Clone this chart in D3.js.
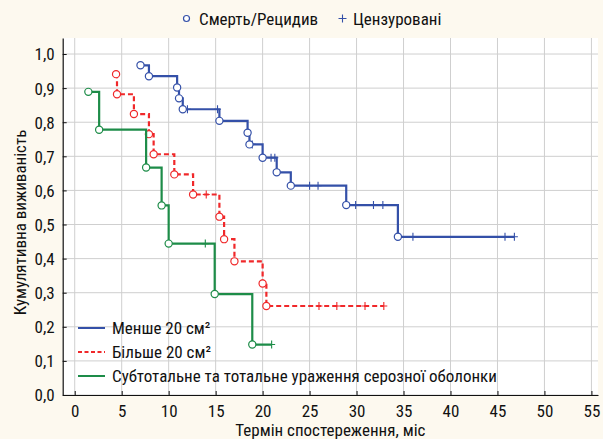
<!DOCTYPE html>
<html>
<head>
<meta charset="utf-8">
<script src="https://cdn.jsdelivr.net/npm/d3@7"></script>
<style>
  html, body { margin: 0; padding: 0; background: #fdf9ef; }
  svg { display: block; }
  text { font-family: "Liberation Sans Narrow", "Roboto Condensed", "Arial Narrow", "Liberation Sans", sans-serif; fill: #111; }
</style>
</head>
<body>
<svg id="chart" width="603" height="439"></svg>
<script>
// ---- Data ----
const seriesNames = ["Менше 20 см²", "Більше 20 см²", "Субтотальне та тотальне ураження серозної оболонки"];

// Blue: Менше 20 см²
const blueEventTimes = [7.0, 7.9, 10.9, 11.1, 11.5, 15.4, 18.4, 18.6, 20.0, 21.5, 23.0, 28.9, 34.4];
const blueEventSurv  = [0.967, 0.935, 0.902, 0.870, 0.838, 0.804, 0.769, 0.735, 0.696, 0.653, 0.614, 0.557, 0.464];
const blueCensTimes  = [12.0, 15.2, 18.9, 20.9, 21.3, 25.0, 25.9, 29.9, 31.8, 32.8, 36.0, 45.8, 46.8];

// Red: Більше 20 см²
const redEventTimes = [4.4, 4.5, 6.3, 7.9, 8.4, 10.6, 12.6, 15.4, 15.9, 17.0, 20.0, 20.4];
const redEventSurv  = [0.941, 0.882, 0.824, 0.765, 0.706, 0.647, 0.588, 0.523, 0.457, 0.392, 0.327, 0.261];
const redCensTimes  = [14.0, 26.0, 27.9, 30.9, 32.9];

// Green: Субтотальне та тотальне ураження серозної оболонки
const greenEventTimes = [1.45, 2.6, 7.6, 9.25, 10.0, 14.9, 18.9];
const greenEventSurv  = [0.889, 0.778, 0.667, 0.556, 0.444, 0.296, 0.148];
const greenCensTimes  = [13.9, 20.96];

const xTicks = [0, 5, 10, 15, 20, 25, 30, 35, 40, 45, 50, 55];
const yTicks = [0, 0.1, 0.2, 0.3, 0.4, 0.5, 0.6, 0.7, 0.8, 0.9, 1.0];

const topLegend = ["Смерть/Рецидив", "Цензуровані"];
const xTitle = "Термін спостереження, міс";
const yTitle = "Кумулятивна виживаність";

// ---- Layout ----
const FS = 17;
const svg = d3.select("#chart");
const L = 62.7, R = 598, T = 38, B = 395;
const x = d3.scaleLinear().domain([-1.28, 55.7]).range([L, R]);
const y = d3.scaleLinear().domain([0, 1.047]).range([B, T]);

svg.append("rect").attr("x", 0).attr("y", 0).attr("width", 603).attr("height", 439).attr("fill", "#fdf9ef");
svg.append("rect").attr("x", L).attr("y", T).attr("width", R - L).attr("height", B - T).attr("fill", "#ffffff");

// grid
const grid = svg.append("g").attr("stroke", "#cfcfcf").attr("stroke-width", 1);
xTicks.forEach(t => grid.append("line").attr("x1", x(t)).attr("x2", x(t)).attr("y1", T).attr("y2", B));
yTicks.forEach(t => grid.append("line").attr("x1", L).attr("x2", R).attr("y1", y(t)).attr("y2", y(t)));

// axes
const fmt = d => d3.format(".1f")(d).replace(".", ",");
const yAxis = d3.axisLeft(y).tickValues(yTicks).tickFormat(fmt).tickSizeInner(-4).tickSizeOuter(0).tickPadding(8);
const xAxis = d3.axisBottom(x).tickValues(xTicks).tickFormat(d3.format("d")).tickSizeInner(-4).tickSizeOuter(0).tickPadding(8);

const gy = svg.append("g").attr("transform", `translate(${L},0)`).call(yAxis);
const gx = svg.append("g").attr("transform", `translate(0,${B})`).call(xAxis);
[gx, gy].forEach(g => {
  g.select(".domain").attr("stroke", "#111").attr("stroke-width", 1.2);
  g.selectAll(".tick line").attr("stroke", "#111");
  g.selectAll(".tick text").attr("font-size", FS).attr("fill", "#111")
   .style("font-family", '"Liberation Sans Narrow", "Roboto Condensed", "Liberation Sans", sans-serif');
});
gy.selectAll(".tick text").attr("dy", "0.35em");
gx.selectAll(".tick text").attr("dy", "0.8em");

// titles
svg.append("text").attr("x", (L + R) / 2).attr("y", 436).attr("text-anchor", "middle")
  .attr("font-size", FS).text(xTitle);
svg.append("text").attr("transform", `translate(26,${(T + B) / 2 + 6}) rotate(-90)`)
  .attr("text-anchor", "middle").attr("font-size", FS).text(yTitle);

// curves
const series = [
  { times: blueEventTimes, surv: blueEventSurv, cens: blueCensTimes, color: "#3450a8", dash: null },
  { times: redEventTimes, surv: redEventSurv, cens: redCensTimes, color: "#f0282a", dash: "5,3" },
  { times: greenEventTimes, surv: greenEventSurv, cens: greenCensTimes, color: "#1d8c48", dash: null }
];

series.forEach(s => {
  const lastEvt = s.times[s.times.length - 1];
  const lastT = Math.max(lastEvt, d3.max(s.cens));
  let d = `M${x(s.times[0])},${y(s.surv[0])}`;
  for (let i = 1; i < s.times.length; i++) {
    d += `H${x(s.times[i])}V${y(s.surv[i])}`;
  }
  d += `H${x(lastT)}`;
  svg.append("path").attr("d", d).attr("fill", "none").attr("stroke", s.color)
    .attr("stroke-width", 2.2).attr("stroke-dasharray", s.dash);

  const survAt = t => {
    let v = s.surv[0];
    for (let i = 0; i < s.times.length; i++) if (s.times[i] <= t) v = s.surv[i];
    return v;
  };
  s.cens.forEach(t => {
    const cx = x(t), cy = y(survAt(t));
    svg.append("path").attr("d", `M${cx - 3.5},${cy}H${cx + 3.5}M${cx},${cy - 4}V${cy + 4}`)
      .attr("stroke", s.color).attr("stroke-width", 1.1).attr("fill", "none");
  });
  s.times.forEach((t, i) => {
    svg.append("circle").attr("cx", x(t)).attr("cy", y(s.surv[i])).attr("r", 3.6)
      .attr("fill", "#fff").attr("stroke", s.color).attr("stroke-width", 1.2);
  });
});

// top legend
const tl = svg.append("g");
tl.append("circle").attr("cx", 186.5).attr("cy", 18.5).attr("r", 3).attr("fill", "#fff").attr("stroke", "#3450a8").attr("stroke-width", 1.2);
tl.append("text").attr("x", 199).attr("y", 24.5).attr("font-size", FS).text(topLegend[0]);
tl.append("path").attr("d", "M338.5,18.5H346.5M342.5,14.5V22.5").attr("stroke", "#3450a8").attr("stroke-width", 1.1);
tl.append("text").attr("x", 353).attr("y", 24.5).attr("font-size", FS).text(topLegend[1]);

// bottom legend
const legRows = [328, 352, 376];
series.forEach((s, i) => {
  svg.append("line").attr("x1", 78).attr("x2", 105).attr("y1", legRows[i]).attr("y2", legRows[i])
    .attr("stroke", s.color).attr("stroke-width", 2).attr("stroke-dasharray", s.dash ? "4,2.5" : null);
  svg.append("text").attr("x", 112).attr("y", legRows[i] + 6).attr("font-size", FS).text(seriesNames[i]);
});
</script>
</body>
</html>
